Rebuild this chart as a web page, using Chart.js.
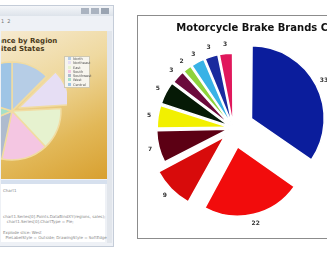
<!DOCTYPE html>
<html>
<head>
<meta charset="utf-8">
<script src="https://cdn.jsdelivr.net/npm/chart.js@4.4.0/dist/chart.umd.min.js"></script>
<style>
  html, body { margin: 0; padding: 0; background: #fff; }
  body { width: 327px; height: 253px; overflow: hidden; position: relative; font-family: "DejaVu Sans", sans-serif; }
  .abs { position: absolute; }
  #win { left: -4px; top: 5px; width: 116px; height: 240px; background: #eef1f6; border: 1px solid #c4ccd8; }
  #titlebar { left: 0; top: 0; width: 116px; height: 10px; background: linear-gradient(#f4f6f9, #dde3ea); }
  .btn { top: 2px; height: 6px; width: 8px; background: #aab3c0; }
  #toolbar { left: 4px; top: 12px; font-size: 5px; color: #777; }
  #gold { left: 4px; top: 25px; width: 106px; height: 148px; overflow: hidden;
          background: linear-gradient(155deg, #f6ead0 0%, #efd9a0 35%, #e2b858 70%, #d8a030 100%); }
  #ltitle { left: -36px; top: 6px; font-size: 7px; font-weight: bold; color: #4a3a1a; line-height: 8px; }
  #lleg { left: 63px; top: 25px; width: 24px; height: 30px; background: #f7f5ee; border: 1px solid #cfc8b0; }
  #lleg div { font-size: 3.5px; color: #555; line-height: 4.3px; padding-left: 3px; white-space: nowrap; }
  #sep { left: 4px; top: 174px; width: 106px; height: 4px; background: #d6e0ee; }
  #panel { left: 4px; top: 178px; width: 104px; height: 58px; background: #fff; }
  #panel div { font-size: 4px; color: #888; white-space: nowrap; position: absolute; left: 2px; }
  #scroll { left: 110px; top: 25px; width: 5px; height: 212px; background: #e2e6ec; }
  #box { left: 137px; top: 15px; width: 252px; height: 222px; border: 1px solid #8c8c8c; background: #fff; }
</style>
</head>
<body>
<div id="win" class="abs">
  <div id="titlebar" class="abs">
    <div class="btn abs" style="left:84px"></div>
    <div class="btn abs" style="left:94px"></div>
    <div class="btn abs" style="left:104px;background:#9aa4b2"></div>
  </div>
  <div id="toolbar" class="abs">1 &nbsp;2</div>
  <div id="gold" class="abs">
    <div id="ltitle" class="abs">Performance by Region<br>in the United States</div>
    <canvas id="left" class="abs" width="110" height="110" style="left:-44px;top:25px"></canvas>
    <div id="lleg" class="abs"></div>
  </div>
  <div id="sep" class="abs"></div>
  <div id="panel" class="abs">
    <div style="top:4px">Chart1</div>
    <div style="top:30px">chart1.Series[0].Points.DataBindXY(regions, sales);</div>
    <div style="top:35px">&nbsp;&nbsp;&nbsp;chart1.Series[0].ChartType = Pie;</div>
    <div style="top:46px">Explode slice: West</div>
    <div style="top:51px">&nbsp;&nbsp;PieLabelStyle = Outside; DrawingStyle = SoftEdge</div>
  </div>
  <div id="scroll" class="abs"></div>
</div>

<div id="box" class="abs">
  <canvas id="right" width="252" height="222"></canvas>
</div>

<script>
// left window chart
var regions = ["North", "Northeast", "East", "South", "Southwest", "West", "Central"];
var regionSales = [45, 42, 50, 55, 55, 40, 73];
var regionColors = ["#b6cde6", "#e6def4", "#e6f2cf", "#f4c6e2", "#aebbce", "#a6e0c8", "#9fc5e6"];
var regionOffsets = [0, 30, 0, 0, 0, 0, 0];

// right chart
var brands = ["Brembo", "Nissin", "Tokico", "AP Racing", "Beringer", "Galfer", "EBC", "Hayes", "Grimeca", "Akebono", "Other"];
var brandShare = [33, 22, 9, 7, 5, 5, 3, 2, 3, 3, 3];
var brandColors = ["#0b1d9c", "#f20c0c", "#d80b0b", "#5c0014", "#f2f000", "#061a06", "#6b0a3c", "#8ed33c", "#38b2e6", "#1a2a9e", "#e0185c"];
var brandOffsets = [82, 78, 50, 20, 17, 17, 14, 13, 13, 13, 13];

$ = function (id) { return document.getElementById(id); };

var leg = "";
regions.forEach(function (r, i) {
  leg += "<div><span style='display:inline-block;width:3px;height:3px;background:" + regionColors[i] + ";margin-right:2px'></span>" + r + "</div>";
});
$("lleg").innerHTML = leg;

new Chart($("left"), {
  type: 'pie',
  data: {
    labels: regions,
    datasets: [{
      data: regionSales,
      backgroundColor: regionColors,
      borderColor: "#f1dca2",
      borderWidth: 1.5,
      offset: regionOffsets,
      radius: 49
    }]
  },
  options: {
    responsive: false,
    animation: false,
    plugins: { legend: { display: false }, tooltip: { enabled: false } }
  }
});

// value labels outside each slice, following the slice's offset
var sliceLabels = {
  id: 'sliceLabels',
  afterDatasetsDraw: function (chart) {
    var ctx = chart.ctx;
    var meta = chart.getDatasetMeta(0);
    ctx.save();
    ctx.font = "bold 6px 'DejaVu Sans'";
    ctx.fillStyle = "#333";
    ctx.textAlign = "center";
    ctx.textBaseline = "middle";
    meta.data.forEach(function (arc, i) {
      var p = arc.getProps(['x', 'y', 'startAngle', 'endAngle', 'outerRadius', 'circumference']);
      var off = (arc.options.offset || 0) / 4;
      var shift = off * (2 - Math.sin(Math.min(Math.PI, p.circumference)));
      var mid = (p.startAngle + p.endAngle) / 2;
      var r = p.outerRadius + shift + 9;
      ctx.fillText(String(chart.data.datasets[0].data[i]), p.x + Math.cos(mid) * r, p.y + Math.sin(mid) * r);
    });
    ctx.restore();
  }
};

new Chart($("right"), {
  type: 'pie',
  data: {
    labels: brands,
    datasets: [{
      data: brandShare,
      backgroundColor: brandColors,
      borderColor: "#fff",
      borderWidth: 1.5,
      offset: brandOffsets,
      radius: 69
    }]
  },
  options: {
    responsive: false,
    animation: false,
    layout: { padding: { bottom: 20 } },
    plugins: {
      title: {
        display: true,
        text: "Motorcycle Brake Brands Chart",
        color: "#111",
        font: { family: "DejaVu Sans", size: 10, weight: "bold" },
        padding: { top: 6, bottom: 4 }
      },
      legend: {
        position: 'right',
        labels: { font: { family: "DejaVu Sans", size: 7 }, boxWidth: 8, padding: 5, color: "#333" }
      },
      tooltip: { enabled: false }
    }
  },
  plugins: [sliceLabels]
});
</script>
</body>
</html>
